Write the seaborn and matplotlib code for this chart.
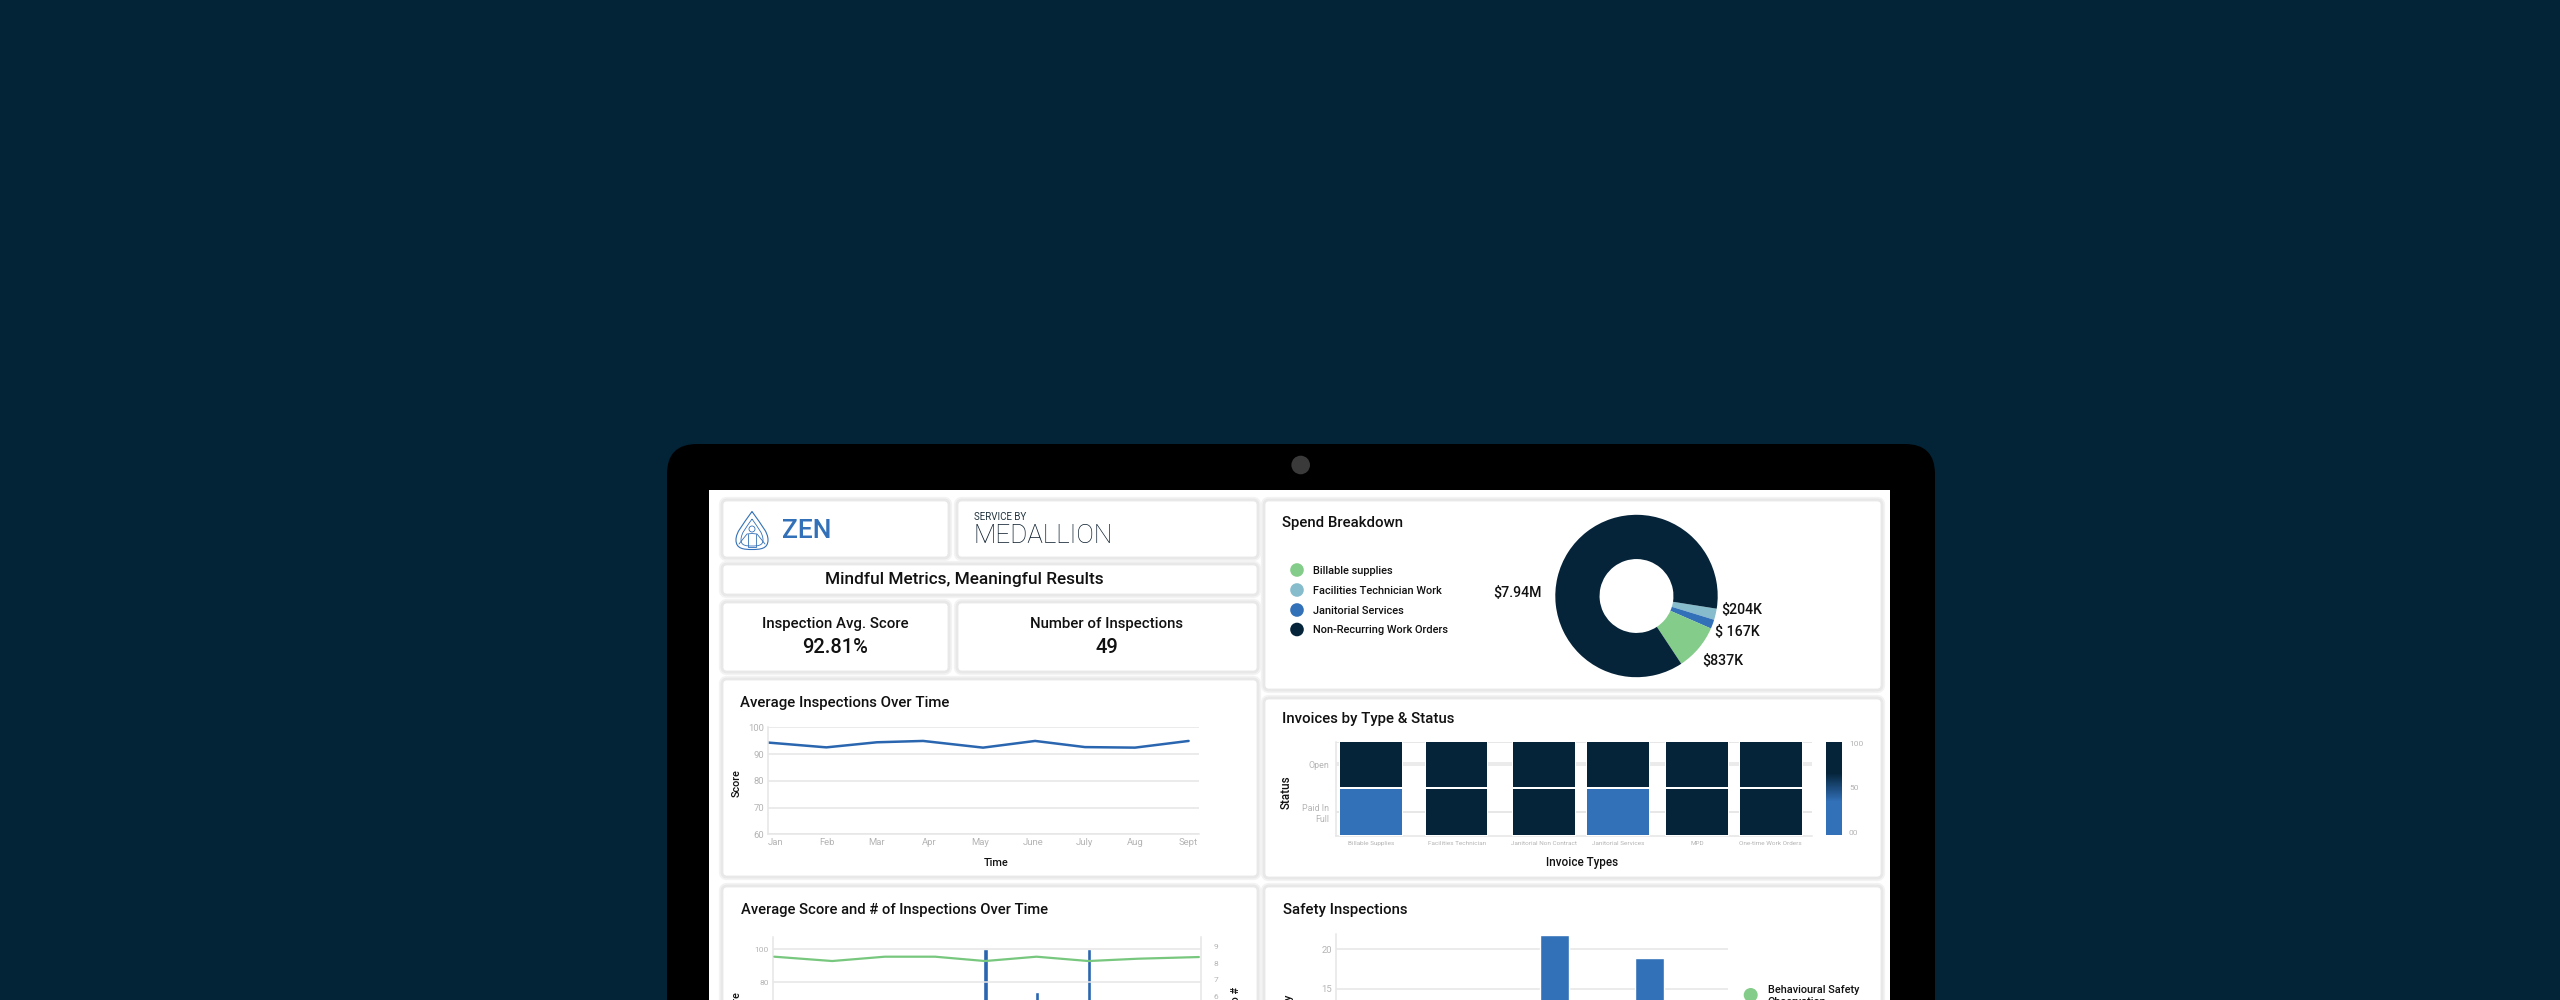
import matplotlib
matplotlib.use('Agg')
import matplotlib.pyplot as plt
import seaborn as sns
import pandas as pd
from matplotlib.colors import LinearSegmentedColormap
from matplotlib.patches import Circle, FancyBboxPatch, PathPatch, Rectangle
from matplotlib.path import Path

# Datos del grafico
# -------------------------------------
months = ['Jan', 'Feb', 'Mar', 'Apr', 'May', 'June', 'July', 'Aug', 'Sept']
month_x = [0, 1.11, 2.07, 2.95, 4.09, 5.08, 6.03, 6.98, 8]
month_ticks = [0.14, 1.115, 2.07, 3.07, 4.04, 5.05, 6.01, 6.98, 7.99]
avg_score = [94.3, 92.5, 94.4, 94.9, 92.4, 94.9, 92.6, 92.4, 94.9]

combo_x = [0, 1.09, 2.08, 3.03, 3.97, 4.94, 5.92, 6.86, 8]
combo_score = [95.4, 92.8, 95.4, 95.4, 92.8, 95.4, 92.8, 94.2, 95.2]
combo_bar_x = [3.98, 4.95, 5.93]
combo_bar_n = [8.86, 6.24, 8.86]

spend_names = ['Facilities Technician Work', 'Janitorial Services', 'Billable supplies', 'Non-Recurring Work Orders']
spend_values = [204, 167, 837, 7940]
legend_names = ['Billable supplies', 'Facilities Technician Work', 'Janitorial Services', 'Non-Recurring Work Orders']

invoice_types = ['Billable Supplies', 'Facilities Technician', 'Janitorial Non Contract',
                 'Janitorial Services', 'MPD', 'One-time Work Orders']
invoice_open = [100, 100, 100, 100, 100, 100]
invoice_paid = [0, 100, 100, 0, 100, 100]
status_names = ['Open', 'Paid In\nFull']

safety_x = [2, 3]
safety_n = [21.8, 18.9]

# Colores
BG = '#032337'
DARK = '#05243a'
BLUE = '#3270b8'
LINE = '#2a66b0'
GREEN = '#84cc8a'
LIGHT = '#86bccb'
GRID = '#e6e6e6'
TICK = '#b4b4b4'

sns.set_theme(style='white')
plt.rcParams['font.family'] = ['Roboto', 'DejaVu Sans']

fig = plt.figure(figsize=(25.6, 10), dpi=100, facecolor=BG)


def px_axes(left, top, right, bottom):
    # ejes colocados en pixeles de la imagen
    ax = fig.add_axes([left / 2560, 1 - bottom / 1000, (right - left) / 2560, (bottom - top) / 1000])
    ax.set_facecolor('none')
    return ax


def clean(ax):
    sns.despine(ax=ax, top=True, right=True)
    for s in ['left', 'bottom']:
        ax.spines[s].set_color(GRID)
        ax.spines[s].set_linewidth(1.1)
    ax.tick_params(length=0, colors=TICK, labelsize=6.8, pad=3)
    ax.grid(axis='y', color=GRID, linewidth=1.1)
    ax.grid(axis='x', visible=False)
    ax.set_axisbelow(True)
    ax.set_xlabel('')
    ax.set_ylabel('')


# Fondo: portatil y tarjetas
# -------------------------------------
bg = px_axes(0, 0, 2560, 1000)
bg.set_xlim(0, 2560)
bg.set_ylim(1000, 0)
bg.axis('off')

bg.add_patch(FancyBboxPatch((667 + 30, 444 + 30), 1268 - 60, 700, boxstyle='round,pad=30,rounding_size=30',
                            fc='black', ec='none'))
bg.add_patch(Circle((1300.7, 465), 9.3, fc='#3a3a3a', ec='none'))
bg.add_patch(Rectangle((709, 490), 1181, 600, fc='white', ec='none'))


def card(x0, y0, x1, y1):
    r = 5
    for lw, col in [(4.5, '#f3f3f3'), (2, '#e8e8e8')]:
        bg.add_patch(FancyBboxPatch((x0 + r, y0 + r), x1 - x0 - 2 * r, y1 - y0 - 2 * r,
                                    boxstyle=f'round,pad={r},rounding_size={r}', fc='white', ec=col, lw=lw))


def text(x, y, s, size=10.4, ha='left', va='center', color='#111111', **kw):
    bg.text(x, y + 0.8, s, fontsize=size, ha=ha, va=va, color=color, **kw)


card(722, 500, 949, 558)
card(957, 500, 1258, 558)
card(722, 564, 1258, 595)
card(722, 602, 949, 672)
card(957, 602, 1258, 672)
card(722, 679, 1258, 877)
card(722, 886, 1258, 1100)
card(1264, 500, 1882, 690)
card(1264, 698, 1882, 878)
card(1264, 886, 1882, 1100)

# Logos
drop = Path([(752, 511.5), (742, 526), (736, 532), (736, 540), (736, 549), (744, 549.5), (752, 549.5),
             (760, 549.5), (768, 549), (768, 540), (768, 532), (762, 526), (752, 511.5)],
            [Path.MOVETO, Path.CURVE4, Path.CURVE4, Path.CURVE4, Path.CURVE4, Path.CURVE4, Path.CURVE4,
             Path.CURVE4, Path.CURVE4, Path.CURVE4, Path.CURVE4, Path.CURVE4, Path.CURVE4])
bg.add_patch(PathPatch(drop, fc='none', ec=BLUE, lw=0.8))
inner = Path([(752, 519), (746, 528), (741, 533), (741, 540), (741, 546), (747, 546), (752, 546),
              (757, 546), (763, 546), (763, 540), (763, 533), (758, 528), (752, 519)],
             drop.codes)
bg.add_patch(PathPatch(inner, fc='none', ec=BLUE, lw=0.6))
bg.add_patch(Circle((752, 529), 3, fc='none', ec=BLUE, lw=0.6))
bg.plot([739, 747, 752, 757, 765], [544, 534, 533.5, 534, 544], color=BLUE, lw=0.6)
bg.plot([748, 748, 756, 756], [534, 547, 547, 534], color=BLUE, lw=0.6)
text(782, 530, 'ZEN', size=19, color=BLUE, fontweight='medium')
text(973.5, 516, 'SERVICE BY', size=7, color='#22343f')
text(973, 535, 'MEDALLION', size=18.8, color='#0a1c2c', fontweight='light')

# Textos de cabecera
text(964.5, 579, 'Mindful Metrics, Meaningful Results', size=12.4, ha='center', fontweight='medium')
text(835, 623, 'Inspection Avg. Score', size=10.8, ha='center', fontweight='medium')
text(835, 647, '92.81%', size=14.5, ha='center', fontweight='medium')
text(1107, 623, 'Number of Inspections', size=10.8, ha='center', fontweight='medium')
text(1107, 647, '49', size=14.5, ha='center', fontweight='medium')

text(740, 701.7, 'Average Inspections Over Time', size=10.8, fontweight='medium')
text(741, 909, 'Average Score and # of Inspections Over Time', size=10.6, fontweight='medium')
text(1282, 522.7, 'Spend Breakdown', size=10.8, fontweight='medium')
text(1282, 717.7, 'Invoices by Type & Status', size=10.8, fontweight='medium')
text(1283, 909, 'Safety Inspections', size=10.8, fontweight='medium')

# 1) Linea: Average Inspections Over Time
# -------------------------------------
ax1 = px_axes(768, 727.3, 1198.6, 834.3)
sns.lineplot(x=month_x, y=avg_score, color=LINE, linewidth=1.8, ax=ax1)
ax1.set_xlim(0, 8.19)
ax1.set_ylim(60, 100)
ax1.set_yticks([60, 70, 80, 90, 100])
ax1.set_xticks(month_ticks)
ax1.set_xticklabels(months)
clean(ax1)
text(737, 782.7, 'Score', size=7.8, rotation=90, ha='center', fontweight='medium')
text(996, 862, 'Time', size=7.8, ha='center', fontweight='medium')

# 2) Combinado: linea + barras (cortado por abajo)
# -------------------------------------
ax2 = px_axes(773, 936.7, 1201, 1095.7)
ax2r = ax2.twinx()
ax2r.set_facecolor('none')
sns.barplot(x=combo_bar_x, y=combo_bar_n, native_scale=True, width=0.083, color=LINE, saturation=1, ax=ax2r)
sns.lineplot(x=combo_x, y=combo_score, color='#78c77e', linewidth=1.6, ax=ax2, zorder=5)
ax2.set_zorder(ax2r.get_zorder() + 1)
ax2.set_xlim(-0.025, 8.04)
ax2r.set_xlim(-0.025, 8.04)
ax2.set_ylim(12, 107.4)
ax2r.set_ylim(0, 9.6)
ax2.set_yticks([60, 80, 100])
ax2r.set_yticks(range(0, 10))
ax2.set_xticks([])
ax2r.set_xticks([])
clean(ax2)
ax2r.grid(False)
ax2r.set_xlabel('')
ax2r.set_ylabel('')
sns.despine(ax=ax2r, top=True, right=False, left=True, bottom=True)
ax2r.spines['right'].set_color(GRID)
ax2r.spines['right'].set_linewidth(1.1)
ax2r.tick_params(length=0, colors=TICK, labelsize=6, pad=9)
ax2.tick_params(labelsize=6)
text(737, 1004, 'Score', size=7.8, rotation=90, ha='center', fontweight='medium')
text(1236, 998, 'No #', size=7.8, rotation=90, ha='center', fontweight='medium')

# 3) Donut: Spend Breakdown
# -------------------------------------
ax3 = px_axes(1636.5 - 81.2, 596 - 81.2, 1636.5 + 81.2, 596 + 81.2)
ax3.pie(spend_values, colors=[LIGHT, BLUE, GREEN, DARK], startangle=-9, counterclock=False,
        wedgeprops={'width': 0.545, 'linewidth': 0})
ax3.set_xlim(-1, 1)
ax3.set_ylim(-1, 1)

legend_cols = [GREEN, LIGHT, BLUE, DARK]
for yy, nm, col in zip([570, 590, 610, 629.5], legend_names, legend_cols):
    bg.add_patch(Circle((1297, yy), 6.8, fc=col, ec='none'))
    text(1312.6, yy, nm, size=7.9, fontweight='medium')
text(1518, 592, '$7.94M', size=10.2, ha='center', fontweight='medium')
text(1742, 609, '$204K', size=10.2, ha='center', fontweight='medium')
text(1737, 631, '$ 167K', size=10.2, ha='center', fontweight='medium')
text(1723, 660, '$837K', size=10.2, ha='center', fontweight='medium')

# 4) Heatmap: Invoices by Type & Status
# -------------------------------------
cmap = LinearSegmentedColormap.from_list('inv', [(0, BLUE), (0.355, BLUE), (0.66, DARK), (1, DARK)])
col_edges = [(1340, 1402), (1426, 1487.4), (1513, 1574.6), (1587.4, 1649), (1665.8, 1728), (1739.7, 1801.6)]

frame = px_axes(1336.3, 741.7, 1812.4, 835.7)
frame.set_xlim(0, 1)
frame.set_ylim(2.04, 0)
frame.set_yticks([0, 0.5, 1.53])
frame.set_yticklabels(['', status_names[0], status_names[1]])
frame.set_xticks([])
clean(frame)
frame.tick_params(labelsize=6.4, pad=5)
for yy in [0, 0.47, 1.53]:
    frame.axhline(yy, color=GRID, linewidth=1.1, zorder=0)

cax = px_axes(1826, 741.7, 1842, 834.7)
for i, (x0, x1) in enumerate(col_edges):
    axh = px_axes(x0 - 1, 740.7, x1 + 1, 835.7)
    tab = pd.DataFrame({invoice_types[i]: [invoice_open[i], invoice_paid[i]]})
    last = i == len(col_edges) - 1
    sns.heatmap(tab, ax=axh, cmap=cmap, vmin=0, vmax=100, linewidths=1.44, linecolor='white',
                yticklabels=False, cbar=last, cbar_ax=cax if last else None)
    axh.tick_params(length=0, colors=TICK, labelsize=4.6, pad=4, axis='x')
    plt.setp(axh.get_xticklabels(), rotation=0)
cbar = axh.collections[0].colorbar
cbar.set_ticks([2.6, 51, 97.8])
cbar.set_ticklabels(['00', '50', '100'])
cbar.outline.set_visible(False)
cax.tick_params(length=0, colors=TICK, labelsize=6, pad=5)

text(1286, 791.7, 'Status', size=8.4, rotation=90, ha='center', fontweight='medium')
text(1582, 861.7, 'Invoice Types', size=8.4, ha='center', fontweight='medium')

# 5) Barras: Safety Inspections
# -------------------------------------
ax5 = px_axes(1336.3, 934.3, 1728, 1100)
sns.barplot(x=safety_x, y=safety_n, native_scale=True, width=0.31, color=BLUE, saturation=1, ax=ax5)
ax5.set_xlim(-0.298, 3.83)
ax5.set_ylim(20 - (1100 - 949.3) / 7.93, 20 + (949.3 - 934.3) / 7.93)
ax5.set_yticks([10, 15, 20])
ax5.set_xticks([])
clean(ax5)
text(1288, 993, 'Frequency', size=7.8, rotation=90, ha='center', va='top', fontweight='medium')
bg.add_patch(Circle((1750.7, 995), 7, fc=GREEN, ec='none'))
text(1767.7, 989.3, 'Behavioural Safety', size=7.8, fontweight='medium')
text(1767.7, 1001, 'Observation', size=7.8, fontweight='medium')

plt.savefig('out.png', dpi=100, facecolor=BG)
